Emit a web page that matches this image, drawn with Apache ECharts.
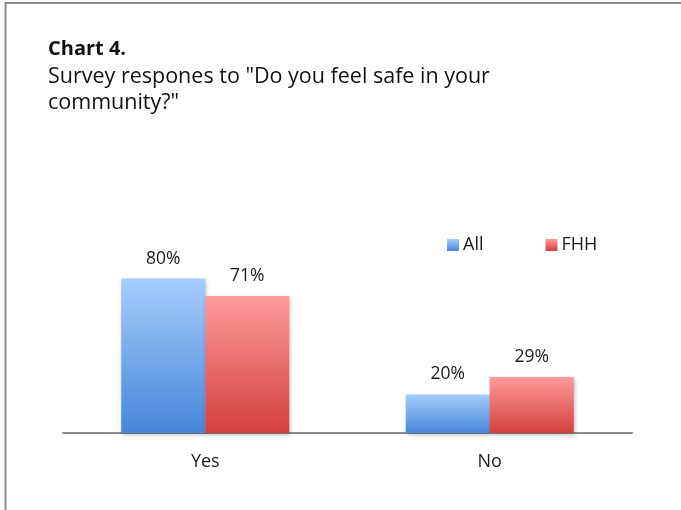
<!DOCTYPE html>
<html>
<head>
<meta charset="utf-8">
<script src="https://cdn.jsdelivr.net/npm/echarts@6/dist/echarts.min.js"></script>
<style>
  html, body { margin: 0; padding: 0; background: #fff; }
  #chart { width: 681px; height: 510px; }
</style>
</head>
<body>
<div id="chart"></div>
<script>
// Survey answers and shares per group (percent)
const categories = ['Yes', 'No'];
const allValues = [80, 20];
const fhhValues = [71, 29];
const seriesNames = ['All', 'FHH'];

const FONT = '"Open Sans", "Noto Sans", sans-serif';

function vGrad(top, bottom) {
  return new echarts.graphic.LinearGradient(0, 0, 0, 1, [
    { offset: 0, color: top },
    { offset: 1, color: bottom }
  ]);
}

const blue = vGrad('#a6cdfd', '#4686d9');
const red = vGrad('#fe9b99', '#d2403e');

const chart = echarts.init(document.getElementById('chart'), null, { renderer: 'canvas' });

function barSeries(name, values, color) {
  return {
    name: name,
    type: 'bar',
    data: values,
    barWidth: 84,
    barGap: '0%',
    itemStyle: {
      color: color,
      shadowColor: 'rgba(0,0,0,0.25)',
      shadowBlur: 4,
      shadowOffsetX: 1,
      shadowOffsetY: 2
    },
    label: {
      show: true,
      position: 'top',
      distance: 11,
      formatter: '{c}%',
      color: '#1a1a1a',
      fontFamily: FONT,
      fontSize: 17.5
    }
  };
}

chart.setOption({
  animation: false,
  backgroundColor: '#fff',
  textStyle: { fontFamily: FONT },
  title: {
    text: 'Chart 4.',
    subtext: 'Survey respones to "Do you feel safe in your\ncommunity?"',
    left: 43,
    top: 31,
    itemGap: 2,
    textStyle: { fontFamily: FONT, fontSize: 20, fontWeight: 'bold', color: '#111', lineHeight: 26 },
    subtextStyle: { fontFamily: FONT, fontSize: 21.5, color: '#111', lineHeight: 26 }
  },
  legend: {
    data: [
      { name: 'All', itemStyle: { color: blue } },
      { name: 'FHH', itemStyle: { color: red } }
    ],
    left: 442,
    top: 231,
    icon: 'rect',
    itemWidth: 12,
    itemHeight: 12,
    itemGap: 62,
    textStyle: { fontFamily: FONT, fontSize: 18, color: '#1a1a1a', padding: [0, 0, 0, -1] }
  },
  grid: { left: 63, right: 49, top: 240, bottom: 77, containLabel: false },
  xAxis: {
    type: 'category',
    data: categories,
    axisLine: { lineStyle: { color: '#8a8a8a', width: 2 } },
    axisTick: { show: false },
    axisLabel: { fontFamily: FONT, fontSize: 18, color: '#1a1a1a', margin: 20 }
  },
  yAxis: {
    type: 'value',
    min: 0,
    max: 100,
    show: false,
    splitLine: { show: false }
  },
  graphic: [{
    type: 'rect',
    shape: { x: 5.5, y: 3, width: 700, height: 600 },
    style: { fill: 'none', stroke: '#8c8c8c', lineWidth: 2 },
    silent: true
  }],
  series: [
    barSeries(seriesNames[0], allValues, blue),
    barSeries(seriesNames[1], fhhValues, red)
  ]
});
</script>
</body>
</html>
